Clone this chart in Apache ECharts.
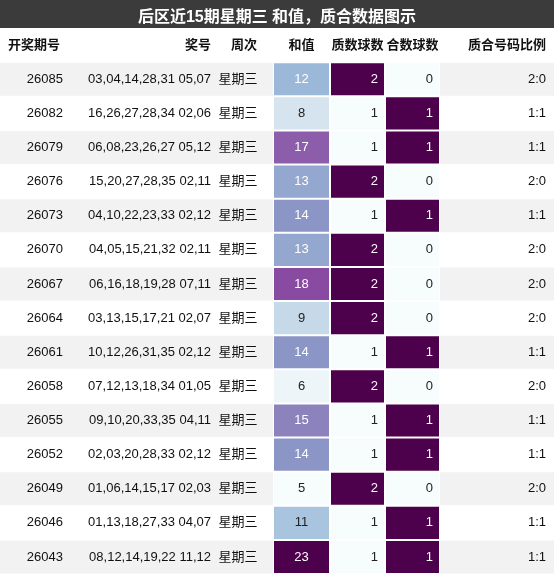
<!DOCTYPE html><html><head><meta charset="utf-8">
<script src="https://cdn.jsdelivr.net/npm/echarts@6/dist/echarts.min.js"></script>
<style>html,body{margin:0;padding:0;background:#fff}#c{width:554px;height:574px}</style></head><body><div id="c"></div>
<script>
const ids=["26085","26082","26079","26076","26073","26070","26067","26064","26061","26058","26055","26052","26049","26046","26043"];
const nums=["03,04,14,28,31 05,07","16,26,27,28,34 02,06","06,08,23,26,27 05,12","15,20,27,28,35 02,11","04,10,22,23,33 02,12","04,05,15,21,32 02,11","06,16,18,19,28 07,11","03,13,15,17,21 02,07","10,12,26,31,35 02,12","07,12,13,18,34 01,05","09,10,20,33,35 04,11","02,03,20,28,33 02,12","01,06,14,15,17 02,03","01,13,18,27,33 04,07","08,12,14,19,22 11,12"];
const sums=[12,8,17,13,14,13,18,9,14,6,15,14,5,11,23];
const primes=[2,1,1,2,1,2,2,2,1,2,1,1,2,1,1];
const comps=[0,1,1,0,1,0,0,0,1,0,1,1,0,1,1];
const ratios=["2:0","1:1","1:1","2:0","1:1","2:0","2:0","2:0","1:1","2:0","1:1","1:1","2:0","1:1","1:1"];
const headers=["开奖期号","奖号","周次","和值","质数球数","合数球数","质合号码比例"];
const edges=[0,70,215,273,330,385,440,554];
const BuPu=['#f7fcfd','#e0ecf4','#bfd3e6','#9ebcda','#8c96c6','#8c6bb1','#88419d','#810f7c','#4d004b'];
const rows=['H'].concat(ids);
const font='"Liberation Sans","Noto Sans CJK SC",sans-serif';
const chart=echarts.init(document.getElementById('c'));
// text cells: [col,row,text,align]
const textData=[];
headers.forEach((h,i)=>textData.push([i,0,h,1]));
ids.forEach((v,r)=>{
 textData.push([0,r+1,v,0]);textData.push([1,r+1,nums[r],0]);textData.push([2,r+1,'星期三',0]);textData.push([6,r+1,ratios[r],0]);
});
const hAlign=['left','right','center','center','center','center','right'];
const dAlign=['right','right','center','center','right','right','right'];
function textRender(p,api){
 const c=api.value(0),r=api.value(1),hdr=api.value(3)===1;
 const txt=textData[p.dataIndex][2];
 const a=api.coord([edges[c],r]),b=api.coord([edges[c+1],r]);
 const h=api.size([0,1])[1];
 const x0=a[0],x1=b[0],y=a[1];
 const al=hdr?hAlign[c]:dAlign[c];
 let tx=al==='left'?x0+8:al==='right'?x1-(c===0?7:c===6?8:4):(x0+x1)/2;
 if(!hdr&&c===2)tx=(x0+x1)/2-6;
 const bg=hdr?'#fff':(r%2===1?'#f2f2f2':'#fff');
 const children=[];
 if(!hdr)children.push({type:'rect',shape:{x:x0,y:y-h/2+0.5,width:x1-x0,height:h-1},style:{fill:bg}});
 children.push({type:'text',style:{x:tx,y:y,text:txt,align:al,verticalAlign:'middle',fill:'#111',font:(hdr?'bold ':'')+'13px '+font}});
 return {type:'group',children};
}
function cellSeries(col,vals,vmIndex,thr,alignRight){
 return {type:'custom',data:vals.map((v,r)=>[col,r+1,v]),encode:{x:0,y:1},
  renderItem:function(p,api){
   const r=api.value(1),v=api.value(2);
   const a=api.coord([edges[col],r]),b=api.coord([edges[col+1],r]);
   const h=api.size([0,1])[1];
   const color=api.visual('color');
   const dark=thr(v);
   const x0=a[0]+1,x1=b[0]-1;
   return {type:'group',children:[
    {type:'rect',shape:{x:x0,y:a[1]-h/2+1,width:x1-x0,height:h-2},style:{fill:color}},
    {type:'text',style:{x:alignRight?x1-6:(x0+x1)/2,y:a[1],text:String(v),align:alignRight?'right':'center',verticalAlign:'middle',fill:dark?'#fff':'#222',font:'13px '+font}}
   ]};
  }};
}
chart.setOption({
 animation:false,
 title:{text:'后区近15期星期三 和值，质合数据图示',left:'center',top:5,textStyle:{color:'#fff',fontSize:16,fontWeight:'bold',fontFamily:font}},
 graphic:[{type:'rect',z:-1,shape:{x:0,y:0,width:554,height:28},style:{fill:'#3b3b3b'}}],
 grid:{left:0,right:0,top:28,bottom:0},
 xAxis:{type:'value',min:0,max:554,show:false},
 yAxis:{type:'category',data:rows,inverse:true,show:false},
 visualMap:[
  {show:false,seriesIndex:1,dimension:2,min:5,max:23,inRange:{color:BuPu}},
  {show:false,seriesIndex:2,dimension:2,min:1,max:2,inRange:{color:['#f7fcfd','#4d004b']}},
  {show:false,seriesIndex:3,dimension:2,min:0,max:1,inRange:{color:['#f7fcfd','#4d004b']}}
 ],
 series:[
  {type:'custom',data:textData.map(d=>[d[0],d[1],0,d[3]]),encode:{x:0,y:1},renderItem:textRender},
  cellSeries(3,sums,0,v=>v>=12,false),
  cellSeries(4,primes,1,v=>v>=2,true),
  cellSeries(5,comps,2,v=>v>=1,true)
 ]
});
</script></body></html>
